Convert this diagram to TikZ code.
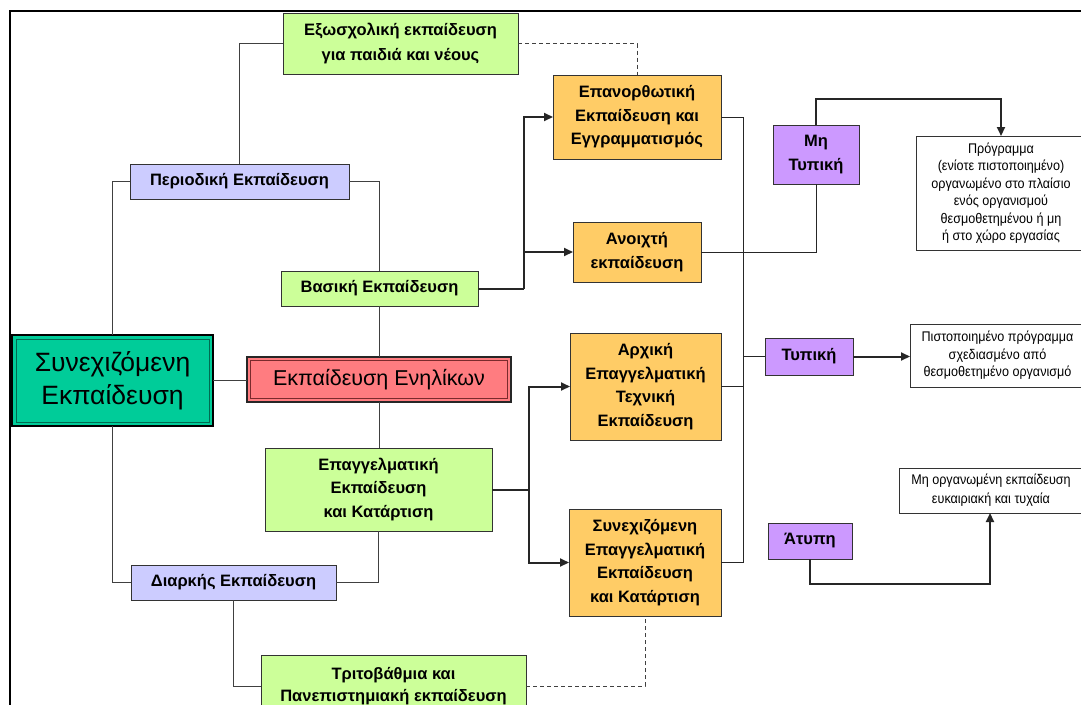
\documentclass[tikz,border=0pt]{standalone}
\usepackage{fontspec}
\setmainfont{Liberation Sans}
\newfontfamily\narrowfont[FakeStretch=0.9]{Liberation Sans}
\usetikzlibrary{arrows.meta}
\definecolor{lgreen}{HTML}{CCFF99}
\definecolor{lorange}{HTML}{FFCC66}
\definecolor{lblue}{HTML}{CCCCFF}
\definecolor{lpurple}{HTML}{CC99FF}
\definecolor{mgreen}{HTML}{00CC99}
\definecolor{dgreen}{HTML}{006B50}
\definecolor{lred}{HTML}{FF7C80}
\definecolor{dred}{HTML}{7A2A2C}
\tikzset{
  box/.style={draw=black!80, line width=0.9pt, inner sep=0pt, outer sep=0pt, align=center,
    font=\bfseries\fontsize{16.5}{23.5}\selectfont},
  gbox/.style={box, fill=lgreen},
  obox/.style={box, fill=lorange},
  bbox/.style={box, fill=lblue},
  pbox/.style={box, fill=lpurple},
  wbox/.style={box, fill=white, font=\narrowfont\fontsize{14}{17.5}\selectfont},
  tree/.style={draw=black!75, line width=0.9pt},
  bus/.style={draw=black!85, line width=1pt},
  thk/.style={draw=black!85, line width=2pt},
  arr/.style={thk, -{Triangle[length=9pt,width=8pt]}},
  dsh/.style={draw=black!75, line width=0.9pt, dash pattern=on 4pt off 3pt}
}
\begin{document}
\begin{tikzpicture}[x=1pt,y=-1pt]
\useasboundingbox (0,0) rectangle (1081,704);
\fill[white] (0,0) rectangle (1081,704);
\clip (0,0) rectangle (1081,704);
\draw[line width=2pt] (10,11) rectangle (1100,730);

% nodes
\node[gbox, minimum width=235, minimum height=61, font=\bfseries\fontsize{16.5}{25}\selectfont] (exo) at (400.5,43.5) {Εξωσχολική εκπαίδευση\\για παιδιά και νέους};
\node[obox, minimum width=168, minimum height=84] (epan) at (637,117) {Επανορθωτική\\Εκπαίδευση και\\Εγγραμματισμός};
\node[pbox, minimum width=86, minimum height=59] (mhtyp) at (816,154.5) {Μη\\Τυπική};
\node[wbox, minimum width=170, minimum height=114] (prog) at (1001,193) {Πρόγραμμα\\(ενίοτε πιστοποιημένο)\\οργανωμένο στο πλαίσιο\\ενός οργανισμού\\θεσμοθετημένου ή μη\\ή στο χώρο εργασίας};
\node[bbox, minimum width=219, minimum height=35] (peri) at (239.5,181.5) {Περιοδική Εκπαίδευση};
\node[obox, minimum width=128, minimum height=60] (anoix) at (637,252) {Ανοιχτή\\εκπαίδευση};
\node[gbox, minimum width=197, minimum height=35] (vas) at (379.5,288.5) {Βασική Εκπαίδευση};
\node[box, fill=mgreen, draw=black, line width=2.8pt, minimum width=201, minimum height=91,
  font=\fontsize{26.5}{33}\selectfont] (synex) at (112.5,380.5) {Συνεχιζόμενη\\Εκπαίδευση};
\draw[dgreen, line width=0.8pt] ([shift={(4,4)}]synex.north west) rectangle ([shift={(-4,-4)}]synex.south east);
\node[box, fill=lred, draw=black!85, line width=1.4pt, minimum width=264, minimum height=45,
  font=\fontsize{21.5}{23}\selectfont] (enhl) at (379,379.5) {Εκπαίδευση Ενηλίκων};
\draw[dred, line width=0.8pt] ([shift={(3.5,3.5)}]enhl.north west) rectangle ([shift={(-3.5,-3.5)}]enhl.south east);
\node[obox, minimum width=151, minimum height=107] (arx) at (645.5,386.5) {Αρχική\\Επαγγελματική\\Τεχνική\\Εκπαίδευση};
\node[pbox, minimum width=88, minimum height=37] (typ) at (809,356.5) {Τυπική};
\node[wbox, minimum width=175, minimum height=63] (pist) at (997.5,355.5) {Πιστοποιημένο πρόγραμμα\\σχεδιασμένο από\\θεσμοθετημένο οργανισμό};
\node[gbox, minimum width=227, minimum height=83] (epag) at (378.5,489.5) {Επαγγελματική\\Εκπαίδευση\\και Κατάρτιση};
\node[wbox, minimum width=184, minimum height=45, font=\narrowfont\fontsize{14}{19}\selectfont] (mhorg) at (991,490.5) {Μη οργανωμένη εκπαίδευση\\ευκαιριακή και τυχαία};
\node[pbox, minimum width=84, minimum height=36] (atyp) at (810,541) {Άτυπη};
\node[obox, minimum width=152, minimum height=107] (synep) at (645,562.5) {Συνεχιζόμενη\\Επαγγελματική\\Εκπαίδευση\\και Κατάρτιση};
\node[bbox, minimum width=205, minimum height=35] (diark) at (233.5,582.5) {Διαρκής Εκπαίδευση};
\node[gbox, minimum width=265, minimum height=62, font=\bfseries\fontsize{16.5}{22.5}\selectfont] (trito) at (393.5,686) {Τριτοβάθμια και\\Πανεπιστημιακή εκπαίδευση};

% junction coordinates
\coordinate (vj) at (524,288.5);
\coordinate (ej) at (529,489.5);
\coordinate (bt) at (743,117);
\coordinate (bb) at (743,562.5);
\coordinate (pa) at (1001,99);
\coordinate (pb) at (990,584);

% tree connectors
\draw[tree] (exo.west) -| (peri.north);
\draw[tree] (peri.west) -| (synex.north);
\draw[tree] (synex.south) |- (diark.west);
\draw[tree] (peri.east) -| (vas.north);
\draw[tree] (vas.south) -- (vas.south |- enhl.north);
\draw[tree] (synex.east) -- (synex.east -| enhl.west);
\draw[tree] (enhl.south) -- (enhl.south |- epag.north);
\draw[tree] (epag.south) |- (diark.east);
\draw[tree] (diark.south) |- (trito.west);
\draw[dsh] (exo.east) -| (epan.north);
\draw[dsh] (trito.east) -| (synep.south);

% thick arrows
\draw[thk] (vas.east) -- (vj);
\draw[arr] (vj) |- (epan.west);
\draw[arr] (vj) |- (anoix.west);
\draw[thk] (epag.east) -- (ej);
\draw[arr] (ej) |- (arx.west);
\draw[arr] (ej) |- (synep.west);

% bus
\draw[bus] (epan.east) -- (bt) -- (bb) -- (synep.east);
\draw[bus] (arx.east) -- (arx.east -| bt);
\draw[bus] (typ.west -| bt) -- (typ.west);
\draw[bus] (anoix.east) -| (mhtyp.south);

\draw[arr] (mhtyp.north) |- (pa) -- (pa |- prog.north);
\draw[arr] (typ.east) -- (typ.east -| pist.west);
\draw[arr] (atyp.south) |- (pb) -- (pb |- mhorg.south);
\end{tikzpicture}
\end{document}
